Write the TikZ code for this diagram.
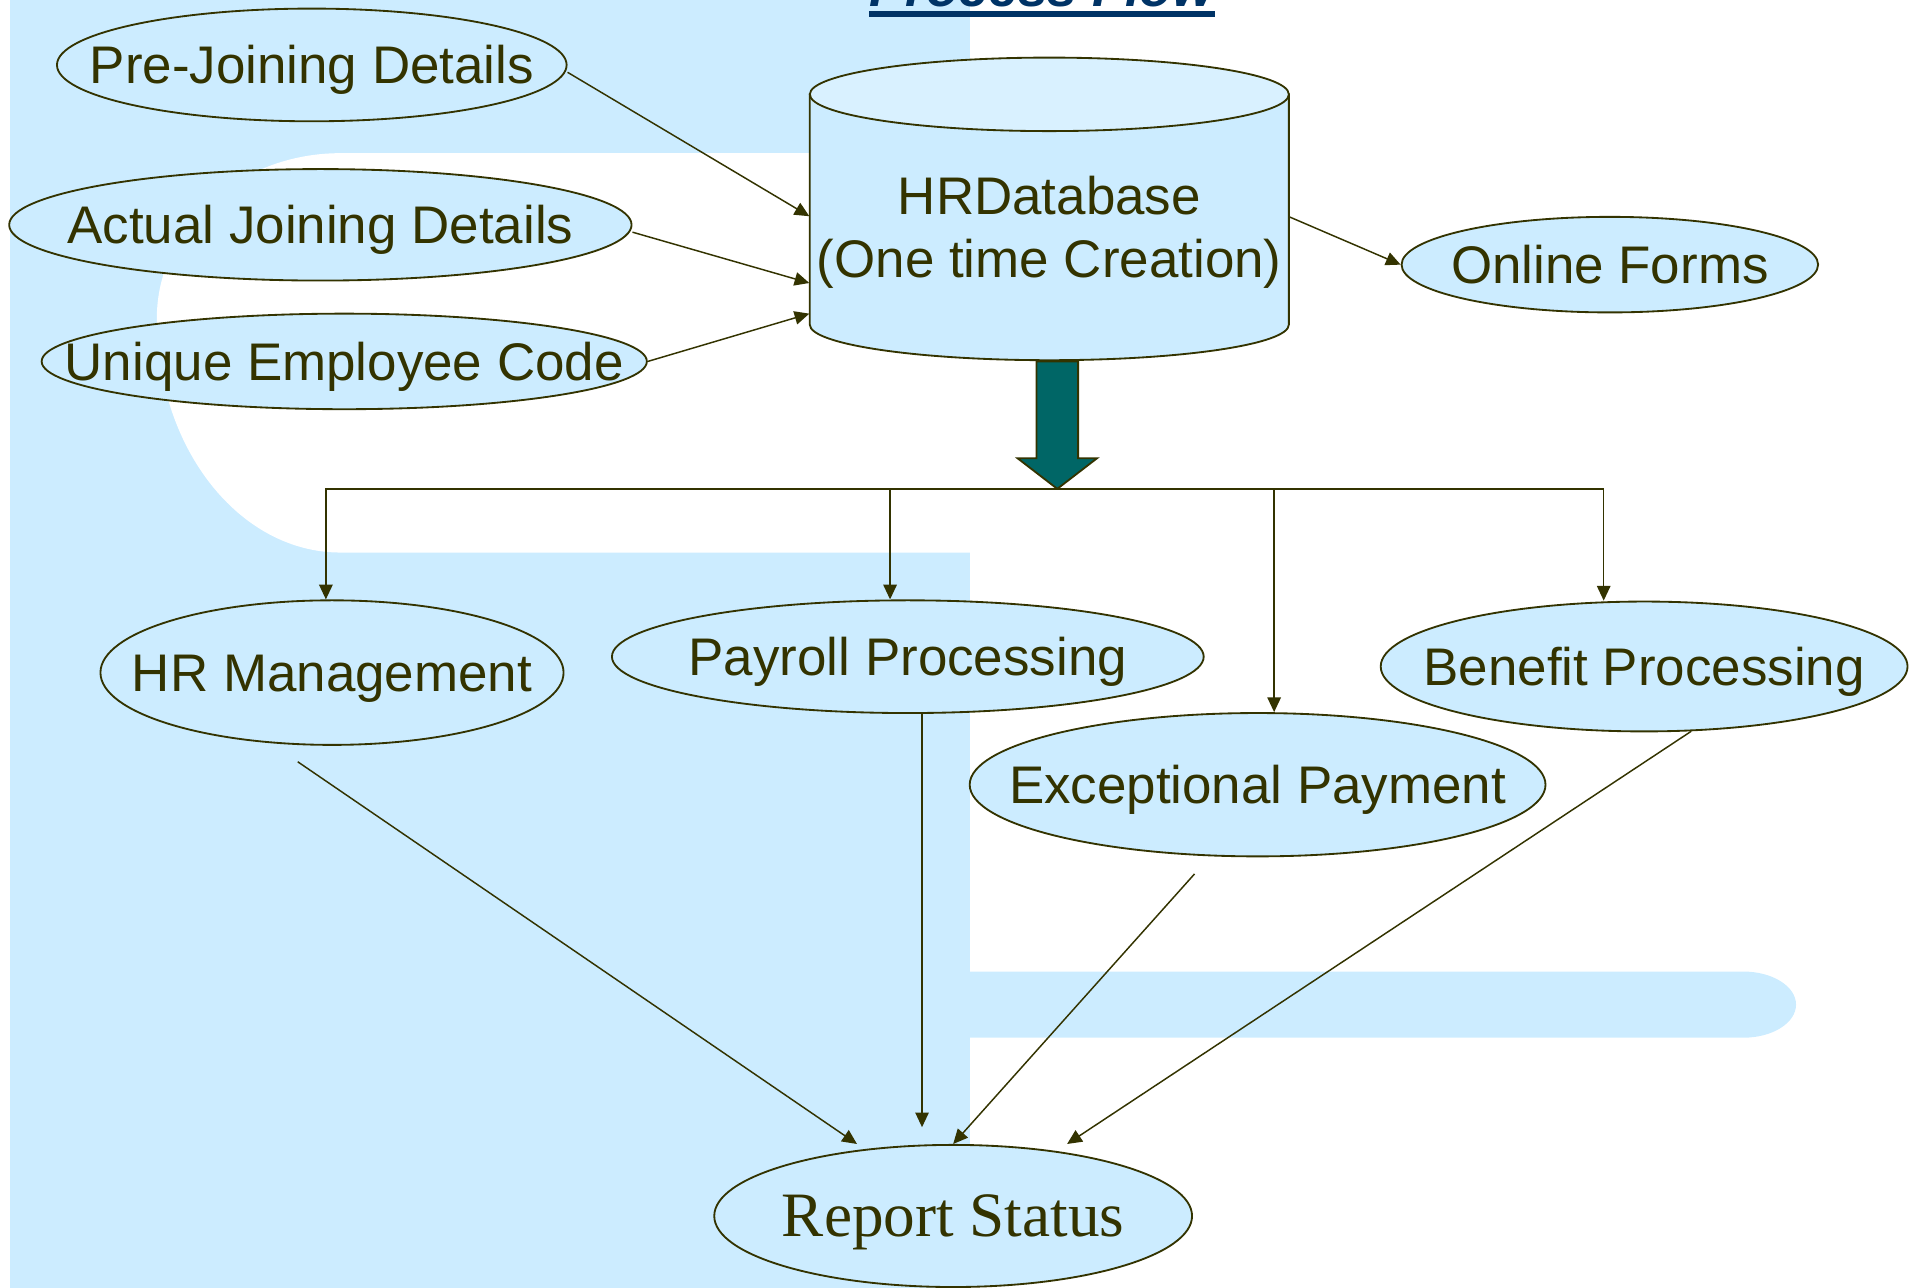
\documentclass[tikz,border=0pt]{standalone}
\usepackage{fontspec}
\setsansfont{Liberation Sans}
\setmainfont{Liberation Serif}
\usepackage{tikz}
\usetikzlibrary{arrows.meta, shapes.geometric}
\usepackage{color}

\definecolor{paleblue}{HTML}{CCECFF}
\definecolor{capblue}{HTML}{D9F1FF}
\definecolor{inkolive}{HTML}{333300}
\definecolor{arrowteal}{HTML}{006666}
\definecolor{titleblue}{HTML}{003366}

% keep the text from stretching the ellipse
\newcommand{\squeeze}[1]{\makebox[0pt]{#1}}

\tikzset{
	task/.style={ellipse,
		draw=inkolive,
		line width=0.75pt,
		fill=paleblue,
		text=inkolive,
		inner sep=0pt,
		text height=15.5pt,
		text depth=0pt,
		font=\fontsize{21.6pt}{25.7pt}\sffamily},
	link/.style={color=inkolive,
		line width=0.6pt,
		-{Triangle[length=6pt,width=5.5pt]}},
	bigarrow/.style={fill=arrowteal,
		draw=inkolive,
		line width=0.75pt},
	dbbody/.style={fill=paleblue,
		draw=inkolive,
		line width=0.75pt}
}

\begin{document}
\begin{tikzpicture}[x=0.5pt, y=0.5pt, font=\sffamily]
	\useasboundingbox (0,0) rectangle (1568,-1051);
	% backdrop
	\fill[paleblue] (8,0) rectangle (792,-1051);
	\fill[white] (800,-125) -- (278,-125)
		arc[start angle=90, end angle=180, x radius=75pt, y radius=67.5pt]
		arc[start angle=180, end angle=270, x radius=75pt, y radius=95.5pt]
		-- (800,-451) -- cycle;
	\fill[paleblue] (780,-793) -- (1423,-793)
		arc[start angle=90, end angle=-90, x radius=21.5pt, y radius=13.5pt]
		-- (780,-847) -- cycle;

	% heading
	\node[anchor=base,
		inner sep=0pt,
		text=titleblue,
		font=\fontsize{21.8pt}{26pt}\sffamily\bfseries\itshape
		] (title) at (850.5,-5.4) {Process Flow};
	\draw[titleblue, line width=2.3pt]
		([yshift=-3pt]title.base west) -- ([yshift=-3pt]title.base east);

	% block arrow out of the database
	\coordinate (hub) at (863,-399);
	\filldraw[bigarrow] (hub) -- ++(-32.5,25) -- ++(15.5,0) -- ++(0,79)
		-- ++(34,0) -- ++(0,-79) -- ++(15.5,0) -- cycle;

	% the database
	\filldraw[dbbody] (661,-77) -- (661,-265)
		arc[start angle=180, end angle=360, x radius=97.75pt, y radius=14.5pt]
		-- (1052,-77) -- cycle;
	\filldraw[dbbody, fill=capblue] (856.5,-77)
		ellipse[x radius=97.75pt, y radius=15pt];
	\node[text=inkolive,
		align=center,
		inner sep=0pt,
		minimum width=195.5pt,
		font=\fontsize{21.6pt}{25.7pt}\sffamily
		] (db) at (856.5,-189.5) {HRDatabase\\(One time Creation)};

	% Add the inputs
	\node[task,
		minimum width=208pt,
		minimum height=46pt
		] (pre) at (254.5,-53) {\squeeze{Pre-Joining Details}};
	\node[task,
		minimum width=254pt,
		minimum height=45.5pt
		] (act) at (261.5,-183.5) {\squeeze{Actual Joining Details}};
	\node[task,
		minimum width=247pt,
		minimum height=39pt
		] (uec) at (281,-295) {\squeeze{Unique Employee Code}};
	\node[task,
		minimum width=170pt,
		minimum height=39pt
		] (onl) at (1314,-216) {\squeeze{Online Forms}};

	% Add the processes
	\node[task,
		minimum width=189pt,
		minimum height=59pt
		] (hrm) at (271,-549) {\squeeze{HR Management}};
	\node[task,
		minimum width=241.5pt,
		minimum height=46pt
		] (pay) at (741,-536) {\squeeze{Payroll Processing}};
	\node[task,
		minimum width=235pt,
		minimum height=58.5pt
		] (exc) at (1026.5,-640.5) {\squeeze{Exceptional Payment}};
	\node[task,
		minimum width=215pt,
		minimum height=53pt
		] (ben) at (1342,-544) {\squeeze{Benefit Processing}};
	\node[task,
		minimum width=195pt,
		minimum height=58pt,
		text height=17.1pt,
		font=\fontsize{25.8pt}{30pt}\rmfamily
		] (rep) at (778,-992.5) {\squeeze{Report Status}};

	\path[link]
		([yshift=-3pt]pre.east) edge ([shift={(0,13)}]db.west)
		([yshift=-3pt]act.east) edge ([shift={(0,-41.5)}]db.west)
		(uec.east) edge ([shift={(0,-66.5)}]db.west)
		([shift={(0,12.5)}]db.east) edge (onl.west);

	\draw[link] (hub) -| ([xshift=-2.5pt]hrm.north);
	\draw[link] (hub) -| ([xshift=-7.25pt]pay.north);
	\draw[link] (hub) -| ([xshift=6.75pt]exc.north);
	\draw[link] (hub) -| ([xshift=-16.5pt]ben.north);

	\path[link]
		([shift={(-28,-13)}]hrm.south) edge ([xshift=-39.25pt]rep.north)
		([xshift=5.8pt]pay.south) edge ([shift={(-25.4,13.7)}]rep.north)
		([shift={(-51.5,-13.6)}]exc.south) edge (rep.north)
		(ben.-54) edge ([xshift=46.5pt]rep.north);
\end{tikzpicture}
\end{document}
